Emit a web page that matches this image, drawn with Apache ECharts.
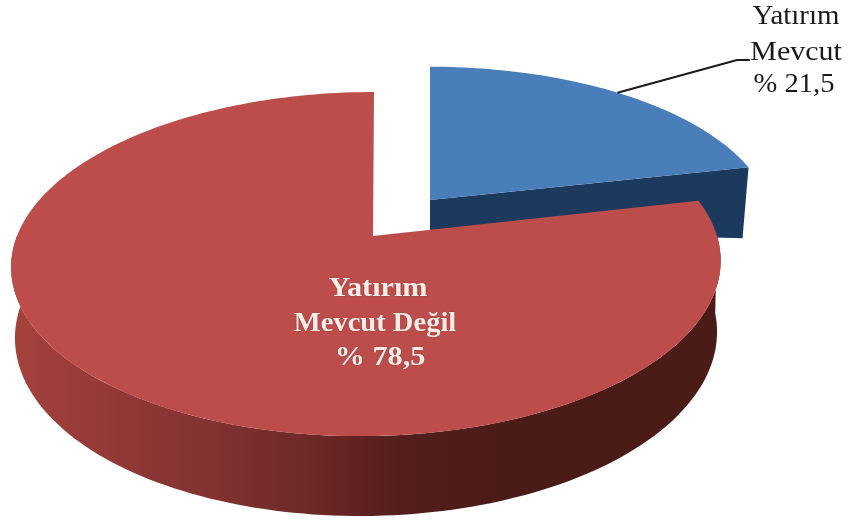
<!DOCTYPE html>
<html><head><meta charset="utf-8">
<style>html,body{margin:0;padding:0;background:#fff}#c{width:848px;height:525px}</style>
<script src="https://cdn.jsdelivr.net/npm/echarts@6/dist/echarts.min.js"></script>
</head><body><div id="c"></div>
<script>
const categories = ['Yatırım Mevcut', 'Yatırım Mevcut Değil'];
const values = [21.5, 78.5];
const labelLines = [['Yatırım', 'Mevcut'], ['Yatırım', 'Mevcut Değil']];
const percentLabels = ['% 21,5', '% 78,5'];

const total = values.reduce((a, b) => a + b, 0);
const chart = echarts.init(document.getElementById('c'), null, {renderer: 'canvas'});
const K = 0.163;
function project(t, p) {
  const u = Math.sin(t), v = Math.cos(t), w = 1 + K * v;
  return [p.x + p.a * u / w + p.skew * v, p.y - p.b * v / w];
}
const topBlue = {x: 430, y: 200, a: 338, b: 155, skew: 0};
const topRed = {x: 367, y: 236, a: 350, b: 167.5, skew: 7};
const apexRed = [373, 236];
function arc(from, to, p, n) {
  const pts = [];
  for (let i = 0; i <= n; i++) pts.push(project(from + (to - from) * i / n, p));
  return pts;
}
function lowerArc(from, to, n) {
  const pts = [];
  for (let i = 0; i <= n; i++) {
    const t = from + (to - from) * i / n;
    pts.push([366 + 351 * Math.cos(t) - 6 * Math.sin(t), 335 + 181 * Math.sin(t)]);
  }
  return pts;
}
function textLines(lines, layout, font, fill, shadow) {
  return lines.map((text, i) => ({
    type: 'text', x: layout[i][0], y: layout[i][1], scaleX: layout[i][2],
    style: {x: 0, y: 0, text, font, fill, align: 'center', verticalAlign: 'middle',
      textShadowColor: shadow, textShadowBlur: shadow ? 2 : 0}
  }));
}
function renderItem(params, api) {
  const idx = params.dataIndex;
  const val = api.value(0);
  const sweep = val / total * Math.PI * 2;
  const before = values.slice(0, idx).reduce((a, b) => a + b, 0) / total * Math.PI * 2;
  const start = before, end = before + sweep;
  const children = [];
  if (idx === 0) {
    const rimEnd = project(end, topBlue);
    children.push({type: 'polygon', shape: {points: [[topBlue.x, topBlue.y], rimEnd, [rimEnd[0] - 6, rimEnd[1] + 71], [topBlue.x, topBlue.y + 30]]},
      style: {fill: '#1b3a5e'}});
    children.push({type: 'polygon', shape: {points: [[topBlue.x, topBlue.y]].concat(arc(start, end, topBlue, 60))},
      style: {fill: '#4a7ebb'}});
    const anchor = project(start + sweep * 0.5, topBlue);
    children.push({type: 'polyline', shape: {points: [anchor, [737, 60], [750, 60]]},
      style: {stroke: '#1a1a1a', lineWidth: 2, fill: null}});
    children.push(...textLines(labelLines[0].concat(percentLabels[0]),
      [[796, 17, 1.03], [796, 53, 1.07], [794, 85, 1.02]], '28px "Liberation Serif"', '#1a1a1a'));
  } else {
    const side = lowerArc(Math.PI + 0.16, -0.12, 120).concat(arc(Math.PI * 0.5, Math.PI * 1.5, topRed, 80));
    children.push({type: 'polygon', shape: {points: side}, style: {
      fill: new echarts.graphic.LinearGradient(0, 0, 1, 0, [
        {offset: 0, color: '#a5423e'}, {offset: 0.15, color: '#923936'}, {offset: 0.3, color: '#7f3130'},
        {offset: 0.42, color: '#6e2928'}, {offset: 0.55, color: '#531e1b'}, {offset: 0.7, color: '#4b1b18'}, {offset: 1, color: '#4b1b18'}
      ])}});
    children.push({type: 'polygon', shape: {points: [apexRed].concat(arc(start, end, topRed, 200))},
      style: {fill: '#bd4d4a'}});
    children.push(...textLines(labelLines[1].concat(percentLabels[1]),
      [[378, 289, 1.08], [375, 324, 1.02], [380, 358, 1.08]], 'bold 28px "Liberation Serif"', '#f8ece8', 'rgba(110,50,50,0.6)'));
  }
  return {type: 'group', children};
}
chart.setOption({
  animation: false,
  backgroundColor: '#ffffff',
  series: [{type: 'custom', coordinateSystem: 'none', renderItem,
    data: categories.map((name, i) => ({name, value: [values[i]]}))}]
});
</script></body></html>
